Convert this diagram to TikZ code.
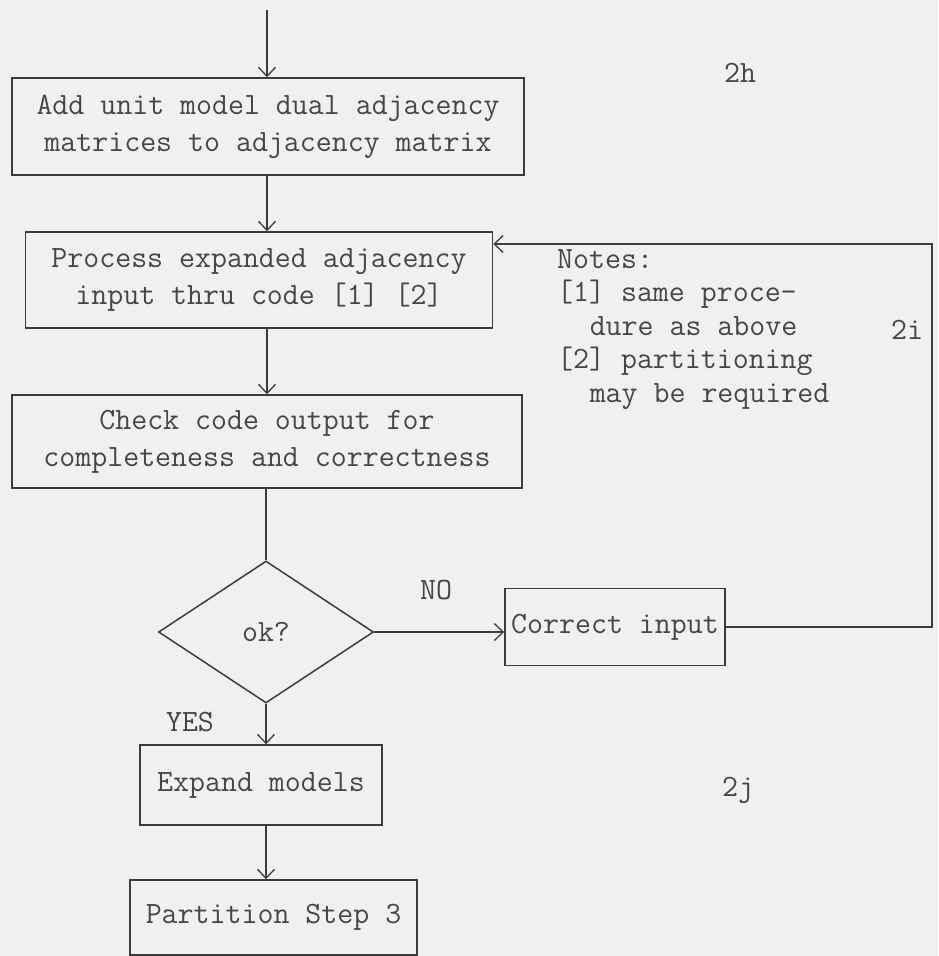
\documentclass[tikz,border=0pt]{standalone}
\usepackage{fontspec}
\setmainfont{Latin Modern Mono}
\usetikzlibrary{arrows.meta,shapes.geometric}
\definecolor{paper}{RGB}{240,240,238}
\definecolor{ink}{RGB}{60,60,60}
\definecolor{txt}{RGB}{70,70,70}
\begin{document}
\begin{tikzpicture}[x=1pt,y=-1pt,
  every node/.style={text=txt},
  boxnode/.style={draw=ink, line width=1.5pt, rectangle, inner sep=0pt, align=center,
     font=\fontsize{31}{37}\selectfont},
  decision/.style={draw=ink, line width=1.5pt, diamond, inner sep=0pt, aspect=1.5,
     minimum width=215pt, minimum height=142pt, font=\fontsize{31}{37}\selectfont},
  lbl/.style={font=\fontsize{31}{33.5}\selectfont, inner sep=0pt},
  arr/.style={draw=ink, line width=1.3pt, -{Straight Barb[length=9pt,width=17pt,line width=1.3pt]}},
  ln/.style={draw=ink, line width=1.3pt}]
\fill[paper] (0,0) rectangle (938,956);
\useasboundingbox (0,0) rectangle (938,956);

\coordinate (spine) at (267,0);
\coordinate (start) at (267,10);
\coordinate (loop) at (932,244);

\node[boxnode, minimum width=512pt, minimum height=97pt] (box1) at (268,126.5)
  {Add unit model dual adjacency\\matrices to adjacency matrix};
\node[boxnode, minimum width=467pt, minimum height=96pt] (box2) at (259,280)
  {Process expanded adjacency\\input thru code [1] [2]};
\node[boxnode, minimum width=510pt, minimum height=93pt] (box3) at (267,441.5)
  {Check code output for\\completeness and correctness};
\node[decision] (ok) at (266,632) {ok?};
\node[boxnode, minimum width=220pt, minimum height=77pt] (corr) at (615,627)
  {Correct input};
\node[boxnode, minimum width=242pt, minimum height=80pt] (expand) at (261,785)
  {Expand models};
\node[boxnode, minimum width=287pt, minimum height=75pt] (part) at (273.5,917.5)
  {Partition Step 3};

\node[lbl, anchor=north west, align=left] (notes) at (557,249)
  {Notes:\\ {[1]} same proce-\\\hspace*{1.05em}dure as above\\ {[2]} partitioning\\\hspace*{1.05em}may be required};
\node[lbl] (l2h) at (740,73) {2h};
\node[lbl] (l2i) at (907,330) {2i};
\node[lbl] (l2j) at (738,790) {2j};
\node[lbl] (no) at (436,590) {NO};
\node[lbl] (yes) at (190,722) {YES};

\draw[arr] (start) -- (box1.north -| spine);
\draw[arr] (box1.south -| spine) -- (box2.north -| spine);
\draw[arr] (box2.south -| spine) -- (box3.north -| spine);
\draw[ln] (box3.south -| ok) -- (ok.north);
\draw[arr] (ok.east) -- (corr.west |- ok.east);
\draw[arr] (ok.south) -- (expand.north -| ok.south);
\draw[arr] (expand.south -| ok.south) -- (part.north -| ok.south);
\draw[arr] (corr.east) -- (corr.east -| loop) -- (loop) -- (box2.east |- loop);
\end{tikzpicture}
\end{document}
